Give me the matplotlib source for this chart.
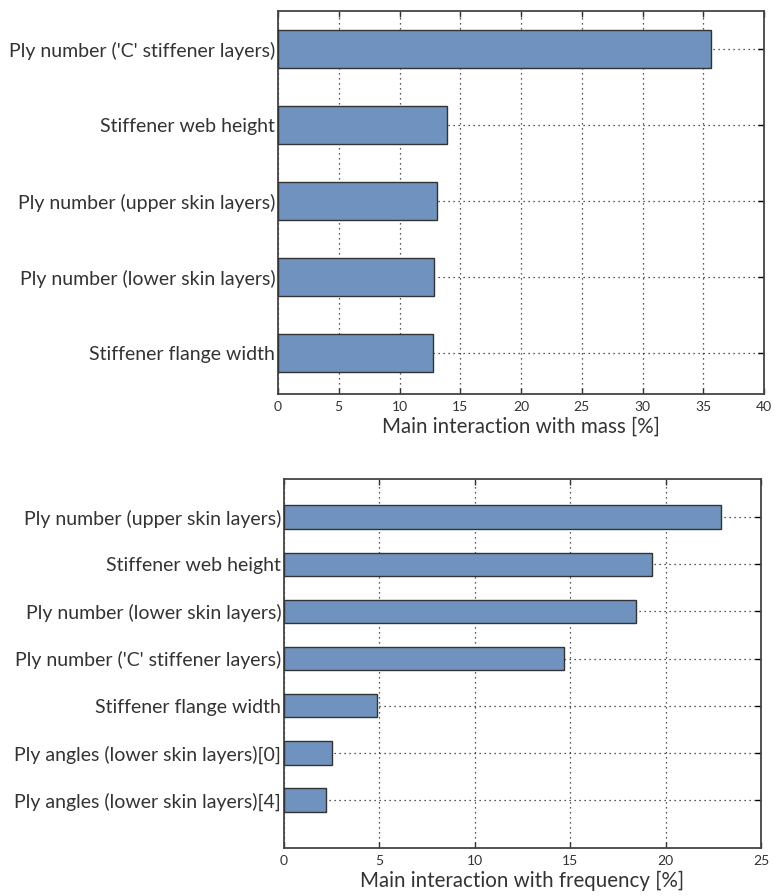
import matplotlib
matplotlib.use("Agg")
import matplotlib.pyplot as plt

plt.rcParams['font.family'] = ['Lato', 'DejaVu Sans']

mass_labels = [
    "Ply number ('C' stiffener layers)",
    "Stiffener web height",
    "Ply number (upper skin layers)",
    "Ply number (lower skin layers)",
    "Stiffener flange width",
]
mass_values = [35.6, 13.9, 13.05, 12.8, 12.75]

freq_labels = [
    "Ply number (upper skin layers)",
    "Stiffener web height",
    "Ply number (lower skin layers)",
    "Ply number ('C' stiffener layers)",
    "Stiffener flange width",
    "Ply angles (lower skin layers)[0]",
    "Ply angles (lower skin layers)[4]",
]
freq_values = [22.9, 19.3, 18.45, 14.7, 4.87, 2.5, 2.2]

bar_color = '#6f93be'
edge_color = '#333333'
text_color = '#333333'

fig = plt.figure(figsize=(7.74, 8.96), dpi=100)
W, H = 774, 896
ax1 = fig.add_axes([278 / W, 1 - 394 / H, (764 - 278) / W, (394 - 11) / H])
ax2 = fig.add_axes([284 / W, 1 - 848 / H, (761 - 284) / W, (848 - 479) / H])


def style(ax, labels, values, xmax, xlabel, ylim):
    n = len(labels)
    pos = list(range(n))[::-1]
    ax.barh(pos, values, height=0.5, color=bar_color, edgecolor=edge_color,
            linewidth=1.0, zorder=3)
    ax.set_yticks(pos)
    ax.set_yticklabels(labels, fontsize=14, color=text_color)
    ax.set_xlim(0, xmax)
    ax.set_ylim(*ylim)
    ax.set_xticks(range(0, xmax + 1, 5))
    ax.tick_params(axis='x', labelsize=10, colors=text_color, direction='in',
                   top=True, length=4, width=1, pad=5)
    ax.tick_params(axis='y', direction='in', right=True, length=4, width=1,
                   pad=2)
    ax.grid(True, linestyle=(0, (1, 3)), color='#222222', linewidth=0.9,
            zorder=0)
    ax.set_axisbelow(True)
    for s in ax.spines.values():
        s.set_linewidth(1.3)
        s.set_color('#444444')
    ax.set_xlabel(xlabel, fontsize=14.8, color=text_color, labelpad=3)


style(ax1, mass_labels, mass_values, 40, "Main interaction with mass [%]",
      (-0.54, 4.5))
style(ax2, freq_labels, freq_values, 25, "Main interaction with frequency [%]",
      (-1.02, 6.81))

fig.savefig("out.png", dpi=100, facecolor='white')
